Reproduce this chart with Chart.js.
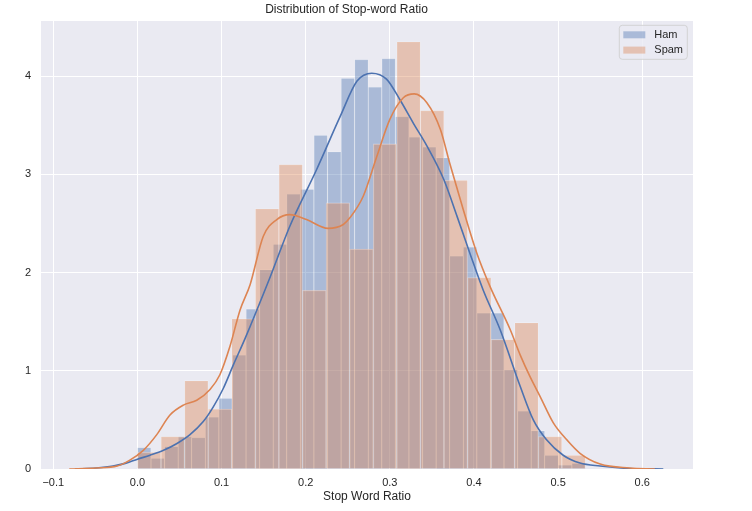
<!DOCTYPE html>
<html>
<head>
<meta charset="utf-8">
<title>Distribution of Stop-word Ratio</title>
<script src="https://cdn.jsdelivr.net/npm/chart.js@4.4.1/dist/chart.umd.min.js"></script>
<style>
  html, body { margin: 0; padding: 0; background: #fff; }
  #grafica { display: block; }
</style>
</head>
<body>
<canvas id="grafica" width="752" height="511"></canvas>
<script>
// rango de los bins (el mismo para ambas series)
const rangoMin = 0.0;
const rangoMax = 0.5325;

// alturas de los histogramas (densidad)
const hamDensidad = [0.22, 0.11, 0.23, 0.33, 0.32, 0.53, 0.72, 1.16, 1.63, 2.03, 2.29,
    2.80, 2.85, 3.40, 3.23, 3.98, 4.17, 3.89, 4.18, 3.59, 3.38, 3.28, 3.17, 2.17,
    2.26, 1.59, 1.59, 1.01, 0.59, 0.39, 0.14, 0.04, 0.06];
const spamDensidad = [0.17, 0.33, 0.90, 0.61, 1.53, 2.65, 3.10, 1.82, 2.71, 2.24,
    3.31, 4.35, 3.65, 2.94, 1.95, 1.32, 1.49, 0.33, 0.14];

// curvas KDE
const hamKdeX = [-0.074, -0.049, -0.029, -0.0135, 0.0, 0.015, 0.031, 0.047, 0.0625, 0.078,
    0.090, 0.102, 0.114, 0.128, 0.158, 0.181, 0.213, 0.241, 0.261, 0.2785, 0.296, 0.312,
    0.328, 0.344, 0.364, 0.380, 0.395, 0.411, 0.431, 0.455, 0.4705, 0.486, 0.506, 0.526,
    0.550, 0.585, 0.625];
const hamKdeY = [0.0, 0.01, 0.03, 0.06, 0.10, 0.14, 0.19, 0.26, 0.35, 0.48,
    0.63, 0.82, 1.06, 1.33, 1.96, 2.47, 3.05, 3.59, 3.95, 4.03, 3.97, 3.76,
    3.52, 3.29, 2.95, 2.57, 2.20, 1.82, 1.42, 0.84, 0.50, 0.30, 0.14, 0.06,
    0.03, 0.005, 0.0];
const spamKdeX = [-0.081, -0.049, -0.024, -0.009, 0.007, 0.023, 0.0387, 0.0546, 0.0705, 0.0863,
    0.098, 0.110, 0.122, 0.134, 0.1496, 0.1656, 0.181, 0.201, 0.2265, 0.2447, 0.2527,
    0.2685, 0.2844, 0.300, 0.316, 0.329, 0.344, 0.360, 0.3716, 0.3873, 0.4033, 0.419,
    0.443, 0.455, 0.4666, 0.4785, 0.4943, 0.510, 0.526, 0.550, 0.585, 0.615];
const spamKdeY = [0.0, 0.01, 0.03, 0.09, 0.19, 0.35, 0.55, 0.65, 0.70, 0.81,
    0.96, 1.25, 1.62, 1.88, 2.37, 2.54, 2.59, 2.54, 2.45, 2.49, 2.56,
    2.78, 3.18, 3.56, 3.78, 3.82, 3.73, 3.46, 3.10, 2.64, 2.20, 1.86,
    1.42, 1.16, 0.94, 0.74, 0.47, 0.30, 0.16, 0.05, 0.01, 0.0];

// ticks de los ejes
const ticksX = [-0.1, 0.0, 0.1, 0.2, 0.3, 0.4, 0.5, 0.6];
const ticksY = [0, 1, 2, 3, 4];

const ejeMin = -0.1146;
const ejeMax = 0.6603;

const fuente = '"Liberation Sans", Arial, sans-serif';
const colorTexto = '#262626';

// centros de cada bin
function centros(n) {
    const ancho = (rangoMax - rangoMin) / n;
    return Array.from({ length: n }, (_, i) => rangoMin + ancho * (i + 0.5));
}

function puntos(xs, ys) {
    return xs.map((x, i) => ({ x: x, y: ys[i] }));
}

const hamCentros = centros(hamDensidad.length);
const spamCentros = centros(spamDensidad.length);

// fondo gris del area de la grafica
const fondo = {
    id: 'fondo',
    beforeDraw(chart) {
        const { ctx, chartArea } = chart;
        ctx.save();
        ctx.fillStyle = '#EAEAF2';
        ctx.fillRect(chartArea.left, chartArea.top, chartArea.right - chartArea.left, chartArea.bottom - chartArea.top);
        ctx.restore();
    }
};

// leyenda dentro del area, arriba a la derecha
const leyenda = {
    id: 'leyenda',
    afterDraw(chart) {
        const { ctx, chartArea } = chart;
        const items = chart.data.datasets.filter(d => d.type === 'bar');
        const w = 68, h = 34;
        const x = chartArea.right - 5.7 - w;
        const y = chartArea.top + 4.3;
        ctx.save();
        ctx.beginPath();
        ctx.roundRect(x, y, w, h, 3);
        ctx.fillStyle = 'rgba(234,234,242,0.8)';
        ctx.fill();
        ctx.strokeStyle = 'rgba(204,204,204,0.8)';
        ctx.lineWidth = 1;
        ctx.stroke();
        ctx.font = '11px ' + fuente;
        ctx.textBaseline = 'middle';
        items.forEach((d, i) => {
            const cy = y + 9.5 + i * 15.3;
            ctx.fillStyle = d.backgroundColor;
            ctx.fillRect(x + 4, cy - 3.5, 22, 7);
            ctx.fillStyle = colorTexto;
            ctx.fillText(d.label, x + 35, cy);
        });
        ctx.restore();
    }
};

const ejeLineal = (visible) => ({
    type: 'linear',
    display: visible,
    min: ejeMin,
    max: ejeMax,
    offset: false,
    afterBuildTicks: (scale) => { scale.ticks = ticksX.map(v => ({ value: v })); },
    afterFit: (scale) => { scale.height = visible ? 42 : 0; },
    grid: { display: visible, color: '#ffffff', lineWidth: 1, drawTicks: false, offset: false },
    border: { display: false },
    ticks: {
        padding: 7,
        color: colorTexto,
        font: { family: fuente, size: 11 },
        maxRotation: 0,
        callback: (v) => v.toFixed(1).replace('-', '\u2212')
    },
    title: {
        display: visible,
        text: 'Stop Word Ratio',
        color: colorTexto,
        font: { family: fuente, size: 12 },
        padding: { top: 0, bottom: 7 }
    }
});

const ctx = document.getElementById('grafica').getContext('2d');
// las barras van debajo y las curvas encima (como en matplotlib)
new Chart(ctx, {
    type: 'bar',
    data: {
        datasets: [
            {
                type: 'bar',
                label: 'Ham',
                data: puntos(hamCentros, hamDensidad),
                xAxisID: 'x',
                backgroundColor: 'rgba(76,114,176,0.4)',
                borderColor: 'rgba(255,255,255,0.4)',
                borderWidth: 0.6,
                grouped: false,
                barPercentage: 1,
                categoryPercentage: 1,
                order: 4
            },
            {
                type: 'line',
                label: 'Ham KDE',
                data: puntos(hamKdeX, hamKdeY),
                xAxisID: 'x',
                borderColor: '#4C72B0',
                borderWidth: 1.6,
                pointRadius: 0,
                fill: false,
                cubicInterpolationMode: 'monotone',
                order: 2
            },
            {
                type: 'bar',
                label: 'Spam',
                data: puntos(spamCentros, spamDensidad),
                xAxisID: 'x2',
                backgroundColor: 'rgba(221,132,82,0.4)',
                borderColor: 'rgba(255,255,255,0.4)',
                borderWidth: 0.6,
                grouped: false,
                barPercentage: 1,
                categoryPercentage: 1,
                order: 3
            },
            {
                type: 'line',
                label: 'Spam KDE',
                data: puntos(spamKdeX, spamKdeY),
                xAxisID: 'x',
                borderColor: '#DD8452',
                borderWidth: 1.6,
                pointRadius: 0,
                fill: false,
                cubicInterpolationMode: 'monotone',
                order: 1
            }
        ]
    },
    options: {
        responsive: false,
        devicePixelRatio: 1,
        animation: false,
        layout: { padding: { left: 0, right: 59, top: 0, bottom: 0 } },
        scales: {
            x: ejeLineal(true),
            x2: ejeLineal(false),
            y: {
                type: 'linear',
                min: 0,
                max: 4.562,
                afterBuildTicks: (scale) => { scale.ticks = ticksY.map(v => ({ value: v })); },
                afterFit: (scale) => { scale.width = 41; },
                grid: { color: '#ffffff', lineWidth: 1, drawTicks: false },
                border: { display: false },
                ticks: {
                    padding: 10,
                    color: colorTexto,
                    font: { family: fuente, size: 11 }
                }
            }
        },
        plugins: {
            legend: { display: false },
            tooltip: { enabled: false },
            title: {
                display: true,
                text: 'Distribution of Stop-word Ratio',
                color: colorTexto,
                font: { family: fuente, size: 12, weight: 'normal' },
                padding: { top: 2, bottom: 4.6 }
            }
        }
    },
    plugins: [fondo, leyenda]
});
</script>
</body>
</html>
